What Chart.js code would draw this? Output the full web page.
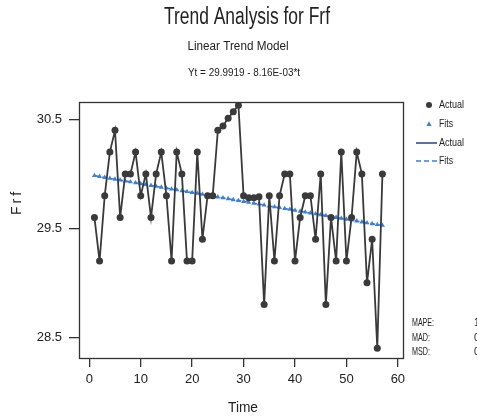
<!DOCTYPE html>
<html>
<head>
<meta charset="utf-8">
<script src="https://cdn.jsdelivr.net/npm/chart.js@4.4.1/dist/chart.umd.min.js"></script>
<style>
  html,body{margin:0;padding:0;background:#fff;}
  #wrap{width:477px;height:420px;}
</style>
</head>
<body>
<div id="wrap"><canvas id="c" width="477" height="420"></canvas></div>
<script>
const titleText = "Trend Analysis for Frf";
const subtitleText = "Linear Trend Model";
const equationText = "Yt = 29.9919 - 8.16E-03*t";
const xTitle = "Time";
const yTitle = "Frf";

const time = [1,2,3,4,5,6,7,8,9,10,11,12,13,14,15,16,17,18,19,20,21,22,23,24,25,26,27,28,29,30,31,32,33,34,35,36,37,38,39,40,41,42,43,44,45,46,47,48,49,50,51,52,53,54,55,56,57];
const actual = [29.6,29.2,29.8,30.2,30.4,29.6,30.0,30.0,30.2,29.8,
                30.0,29.6,30.0,30.2,29.8,29.2,30.2,30.0,29.2,29.2,
                30.2,29.4,29.8,29.8,30.4,30.44,30.51,30.57,30.63,29.8,
                29.78,29.78,29.79,28.8,29.8,29.2,29.8,30.0,30.0,29.2,
                29.6,29.8,29.8,29.4,30.0,28.8,29.6,29.2,30.2,29.2,
                29.6,30.2,30.0,29.0,29.4,28.4,30.0];
const fits = [29.984,29.976,29.967,29.959,29.951,29.943,29.935,29.927,29.918,29.910,
              29.902,29.894,29.886,29.878,29.870,29.861,29.853,29.845,29.837,29.829,
              29.821,29.812,29.804,29.796,29.788,29.780,29.772,29.763,29.755,29.747,
              29.739,29.731,29.723,29.714,29.706,29.698,29.690,29.682,29.674,29.666,
              29.657,29.649,29.641,29.633,29.625,29.617,29.608,29.600,29.592,29.584,
              29.576,29.568,29.559,29.551,29.543,29.535,29.527];
const xTicks = [0,10,20,30,40,50,60];
const yTicks = [28.5,29.5,30.5];
const legendLabels = ["Actual","Fits","Actual","Fits"];
const statLabels = ["MAPE:","MAD:","MSD:"];

const FONT = "'Liberation Sans Narrow','Liberation Sans',Arial,sans-serif";
const DARK = '#3a3a3a';
const BLUE = '#3a7fe0';
const TXT = '#222';

function fitText(ctx, text, cx, cy, size, width, align){
  ctx.save();
  ctx.font = size + "px " + FONT;
  const w = ctx.measureText(text).width;
  const s = width ? width / w : 1;
  ctx.translate(cx, cy);
  ctx.scale(s, 1);
  ctx.textAlign = align || 'center';
  ctx.textBaseline = 'middle';
  ctx.fillText(text, 0, 0);
  ctx.restore();
}

// accuracy measures (text only)
let sa=0, sd=0, sq=0;
for (let i=0;i<actual.length;i++){ const e=actual[i]-fits[i]; sa+=Math.abs(e/actual[i])*100; sd+=Math.abs(e); sq+=e*e; }
const statValues = [(sa/actual.length).toFixed(2), (sd/actual.length).toFixed(3), (sq/actual.length).toFixed(3)];

const decor = {
  id:'decor',
  beforeDraw(chart){
    const ctx = chart.ctx;
    ctx.save();
    ctx.fillStyle='#fff';
    ctx.fillRect(0,0,chart.width,chart.height);
    ctx.restore();
  },
  afterDraw(chart){
    const ctx = chart.ctx;
    const a = chart.chartArea;
    ctx.save();
    ctx.strokeStyle = '#333';
    ctx.lineWidth = 1.3;
    ctx.strokeRect(Math.round(a.left)+0.5, Math.round(a.top)+0.5, Math.round(a.right-a.left), Math.round(a.bottom-a.top));
    ctx.fillStyle = TXT;
    fitText(ctx, titleText, 247, 18, 23, 166);
    fitText(ctx, subtitleText, 238, 47, 12, 101);
    fitText(ctx, equationText, 244, 73, 11, 112);
    fitText(ctx, xTitle, 243, 408, 15, 30);
    // y title rotated, letter spaced
    ctx.save();
    ctx.translate(17, 204);
    ctx.rotate(-Math.PI/2);
    ctx.font = "14px " + FONT;
    ctx.textAlign='center'; ctx.textBaseline='middle';
    ctx.letterSpacing = '3px';
    ctx.fillText(yTitle, 2, 0);
    ctx.restore();

    // legend
    const lx = 429, tx = 439;
    const rows = [105, 124, 143, 161];
    ctx.fillStyle = DARK;
    ctx.beginPath(); ctx.arc(lx, rows[0], 3, 0, Math.PI*2); ctx.fill();
    ctx.fillStyle = BLUE;
    ctx.beginPath(); ctx.moveTo(lx, rows[1]-2.8); ctx.lineTo(lx+2.6, rows[1]+1.9); ctx.lineTo(lx-2.6, rows[1]+1.9); ctx.closePath(); ctx.fill();
    ctx.strokeStyle = '#2d4f9e'; ctx.lineWidth = 1.6;
    ctx.beginPath(); ctx.moveTo(416, rows[2]); ctx.lineTo(437, rows[2]); ctx.stroke();
    ctx.strokeStyle = BLUE; ctx.setLineDash([5,3]);
    ctx.beginPath(); ctx.moveTo(416, rows[3]); ctx.lineTo(437, rows[3]); ctx.stroke();
    ctx.setLineDash([]);
    ctx.fillStyle = TXT;
    fitText(ctx, legendLabels[0], tx, rows[0], 10, 25, 'left');
    fitText(ctx, legendLabels[1], tx, rows[1], 10, 14, 'left');
    fitText(ctx, legendLabels[2], tx, rows[2], 10, 25, 'left');
    fitText(ctx, legendLabels[3], tx, rows[3], 10, 14, 'left');

    const sy = [323, 338, 352];
    fitText(ctx, statLabels[0], 412, sy[0], 10, 22, 'left');
    fitText(ctx, statLabels[1], 412, sy[1], 10, 18, 'left');
    fitText(ctx, statLabels[2], 412, sy[2], 10, 18, 'left');
    for (let i=0;i<3;i++) fitText(ctx, statValues[i], 474, sy[i], 10, null, 'left');
    ctx.restore();
  }
};

new Chart(document.getElementById('c'), {
  type:'scatter',
  data:{
    datasets:[
      {
        label:'Fits',
        data: time.map((t,i)=>({x:t,y:fits[i]})),
        showLine:true,
        borderColor:BLUE,
        backgroundColor:BLUE,
        borderWidth:1.6,
        borderDash:[5,3],
        pointStyle:'triangle',
        pointRadius:2.9,
        pointBorderWidth:0,
        order:2
      },
      {
        label:'Actual',
        data: time.map((t,i)=>({x:t,y:actual[i]})),
        showLine:true,
        borderColor:DARK,
        backgroundColor:DARK,
        borderWidth:1.8,
        pointRadius:3.5,
        pointBorderWidth:0,
        order:1
      }
    ]
  },
  options:{
    responsive:false,
    animation:false,
    events:[],
    layout:{padding:{left:0, top:102, right:74, bottom:0}},
    plugins:{legend:{display:false}, title:{display:false}, tooltip:{enabled:false}},
    scales:{
      x:{
        type:'linear', min:-2, max:61,
        afterBuildTicks(s){ s.ticks = xTicks.map(v=>({value:v})); },
        afterFit(s){ s.height = 62; },
        grid:{drawOnChartArea:false, drawTicks:true, tickLength:9, color:'#333', lineWidth:1.3},
        border:{display:false},
        ticks:{color:TXT, font:{family:FONT, size:13}, padding:5, maxRotation:0}
      },
      y:{
        min:28.31, max:30.66,
        afterBuildTicks(s){ s.ticks = yTicks.map(v=>({value:v})); },
        afterFit(s){ s.width = 79; },
        grid:{drawOnChartArea:false, drawTicks:true, tickLength:10, color:'#333', lineWidth:1.3},
        border:{display:false},
        ticks:{color:TXT, font:{family:FONT, size:13}, padding:7, callback:v=>v.toFixed(1)}
      }
    }
  },
  plugins:[decor]
});
</script>
</body>
</html>
